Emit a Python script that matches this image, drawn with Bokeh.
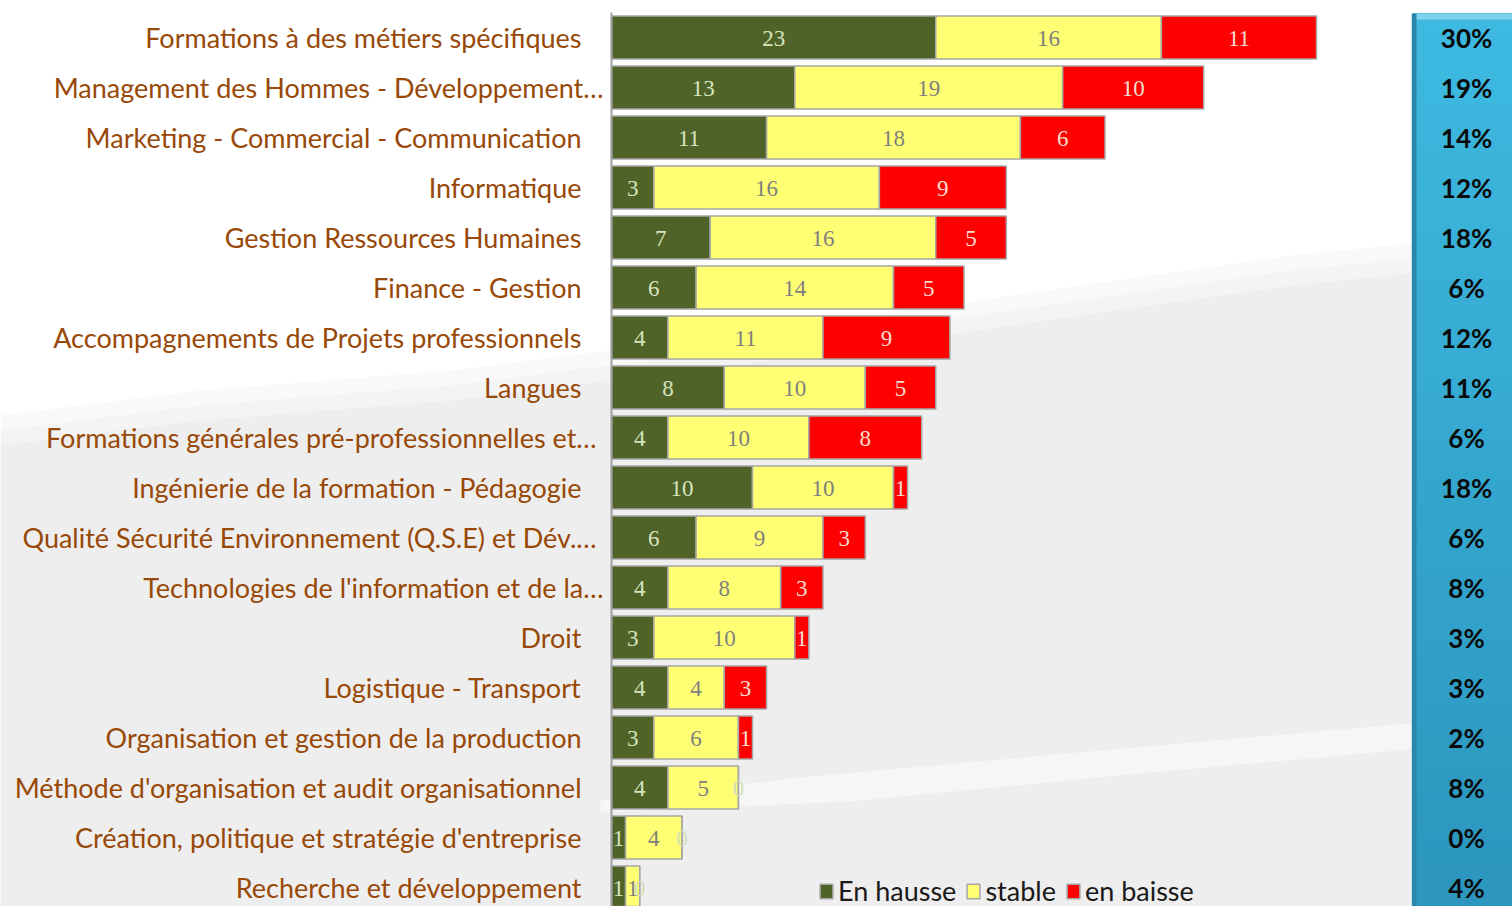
import numpy as np
from bokeh.plotting import figure
from bokeh.layouts import row
from bokeh.models import ColumnDataSource, Range1d, Legend, LegendItem
from bokeh.core.properties import value
from bokeh.embed import file_html
from bokeh.resources import INLINE

# ---------------- data ----------------
categories = [
    "Formations à des métiers spécifiques",
    "Management des Hommes - Développement…",
    "Marketing - Commercial - Communication",
    "Informatique",
    "Gestion Ressources Humaines",
    "Finance - Gestion",
    "Accompagnements de Projets professionnels",
    "Langues",
    "Formations générales pré-professionnelles  et…",
    "Ingénierie de la formation - Pédagogie",
    "Qualité Sécurité Environnement  (Q.S.E) et Dév.…",
    "Technologies de l'information et de la…",
    "Droit",
    "Logistique - Transport",
    "Organisation et gestion de la production",
    "Méthode d'organisation et audit organisationnel",
    "Création, politique et stratégie d'entreprise",
    "Recherche et développement",
]
en_hausse = [23, 13, 11, 3, 7, 6, 4, 8, 4, 10, 6, 4, 3, 4, 3, 4, 1, 1]
stable = [16, 19, 18, 16, 16, 14, 11, 10, 10, 10, 9, 8, 10, 4, 6, 5, 4, 1]
en_baisse = [11, 10, 6, 9, 5, 5, 9, 5, 8, 1, 3, 3, 1, 3, 1, 0, 0, 0]
percent_labels = ["30%", "19%", "14%", "12%", "18%", "6%", "12%", "11%", "6%",
                  "18%", "6%", "8%", "3%", "3%", "2%", "8%", "0%", "4%"]
series_names = ["En hausse", "stable", "en baisse"]

# ---------------- layout / style ----------------
W1, W2, H = 1411, 101, 906
PX_PER_UNIT = 14.1
ROW_PX = 50.0
ZERO_PX = 611.0          # x of value 0 inside the first figure
FIRST_ROW_PX = 37.0      # y of first row centre from figure top

fill_colors = ["#4F6228", "#FFFF73", "#FF0000"]
label_colors = ["#D7E4BD", "#7F7F7F", "#F6DCD0"]
zero_label_color = "#D4DEB8"
outline = "#A6A6A6"
cat_color = "#984807"

x0 = -ZERO_PX / PX_PER_UNIT
x1 = x0 + W1 / PX_PER_UNIT
y_top = -FIRST_ROW_PX / ROW_PX
y_bot = y_top + H / ROW_PX

p = figure(width=W1, height=H, output_backend="svg", toolbar_location=None,
           x_range=Range1d(x0, x1), y_range=Range1d(y_bot, y_top),
           x_axis_location=None, y_axis_location=None, min_border=0,
           outline_line_color=None)
p.grid.visible = False
p.background_fill_color = "white"
p.border_fill_color = "white"

# decorative light-grey background swoosh (soft edge via layered patches)
def px2data(px, py):
    return ((px - ZERO_PX) / PX_PER_UNIT, (py - FIRST_ROW_PX) / ROW_PX)

def bg_patch(pts, color, alpha=1.0):
    xs, ys_ = zip(*[px2data(a, b) for a, b in pts])
    p.patch(list(xs), list(ys_), fill_color=color, fill_alpha=alpha, line_color=None)

for dy, a in [(-30, 0.35), (-15, 0.45), (0, 1.0)]:
    bg_patch([(0, 910), (0, 445 + dy), (200, 420 + dy), (450, 400 + dy), (800, 356 + dy),
              (1100, 312 + dy), (1300, 284 + dy), (1420, 272 + dy), (1420, 910)],
             "#EEEEEE", a)
bg_patch([(1420, 722), (1100, 750), (800, 777), (600, 800), (600, 812),
          (850, 801), (1150, 772), (1420, 748)], "#F6F6F6", 0.9)

ys = list(range(len(categories)))
series = [en_hausse, stable, en_baisse]
left = np.zeros(len(categories))
renderers = []
for k, vals in enumerate(series):
    vals = np.array(vals, dtype=float)
    right = left + vals
    src = ColumnDataSource(dict(y=ys, left=left, right=right,
                                mid=(left + right) / 2,
                                txt=[str(int(v)) for v in vals],
                                col=[zero_label_color if v == 0 else label_colors[k] for v in vals]))
    r = p.hbar(y="y", left="left", right="right", height=0.86, source=src,
               fill_color=fill_colors[k], line_color=outline, line_width=1.5)
    renderers.append(r)
    p.text(x="mid", y="y", text="txt", source=src, text_color="col",
           text_font=value("Liberation Serif"), text_font_size="23px",
           text_align="center", text_baseline="middle", y_offset=1)
    left = right

# axis line
p.segment(x0=[0], y0=[y_top + 12 / ROW_PX], x1=[0], y1=[y_bot], line_color="#A0A0A0", line_width=2)

# category labels
offs = [-8 if c.endswith("…") else -30 for c in categories]
csrc = ColumnDataSource(dict(x=[0] * len(categories), y=ys, t=categories, off=offs))
p.text(x="x", y="y", text="t", source=csrc, x_offset="off", text_align="right",
       text_baseline="middle", text_color=cat_color, text_font=value("Lato"),
       text_font_size="27px")

legend = Legend(items=[LegendItem(label=n, renderers=[r]) for n, r in zip(series_names, renderers)],
                orientation="horizontal", location=(818, -1), padding=0, margin=0,
                spacing=9, label_standoff=4, glyph_width=16, glyph_height=18,
                label_text_font="Lato", label_text_font_size="27px",
                label_text_color="#1A1A1A", border_line_color=None,
                background_fill_alpha=0)
p.add_layout(legend)

# ---------------- right panel ----------------
q = figure(width=W2, height=H, output_backend="svg", toolbar_location=None,
           x_range=Range1d(0, 1), y_range=p.y_range,
           x_axis_location=None, y_axis_location=None, min_border=0,
           outline_line_color=None)
q.grid.visible = False
q.background_fill_color = "white"
q.border_fill_color = "white"

panel_top = y_top + 13 / ROW_PX
n = 40
edges = np.linspace(panel_top, y_bot, n + 1)
c0 = np.array([62, 186, 226])
c1 = np.array([44, 150, 190])
cols = ["#%02x%02x%02x" % tuple(int(v) for v in (c0 + (c1 - c0) * t)) for t in np.linspace(0, 1, n)]
q.quad(left=[0.02] * n, right=[1.0] * n, top=list(edges[:-1]), bottom=list(edges[1:]),
       fill_color=cols, line_color=cols)
# bevel: top highlight and left dark edge
q.quad(left=[0.02], right=[1.0], top=[panel_top], bottom=[panel_top + 6 / ROW_PX],
       fill_color="#7FD3EE", line_color=None)
q.quad(left=[0.0], right=[0.05], top=[panel_top], bottom=[y_bot],
       fill_color="#2A87AC", line_color=None)
psrc = ColumnDataSource(dict(x=[0.545] * len(percent_labels), y=ys, t=percent_labels))
q.text(x="x", y="y", text="t", source=psrc, text_align="center", text_baseline="middle",
       text_color="#0A0A0A", text_font=value("Lato"), text_font_style="bold",
       text_font_size="26px")

layout = row(p, q, spacing=0)
open("out.html", "w").write(file_html(layout, INLINE))
